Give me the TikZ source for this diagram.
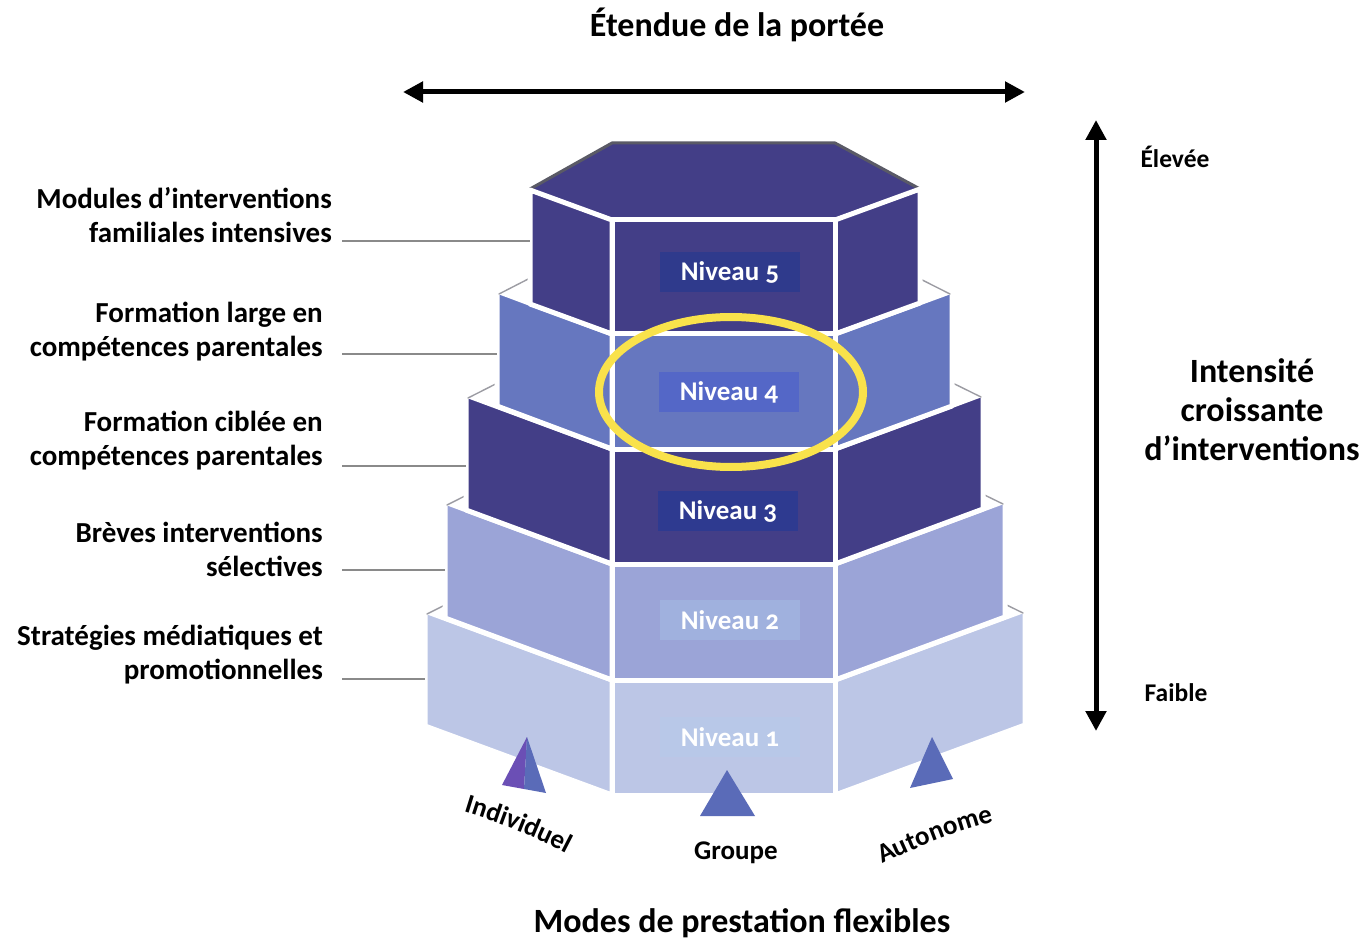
\documentclass[tikz,border=0pt]{standalone}
\usepackage{fontspec}
\setmainfont{Carlito}
\newfontfamily\nivfont{Carlito}[Numbers=OldStyle]
\usetikzlibrary{arrows.meta,decorations.text}
\definecolor{tdark}{HTML}{433E87}
\definecolor{tmid}{HTML}{6677BF}
\definecolor{tlight}{HTML}{9BA4D7}
\definecolor{tpale}{HTML}{BCC6E6}
\definecolor{bfive}{HTML}{2F3A8C}
\definecolor{bfour}{HTML}{5467C7}
\definecolor{bthree}{HTML}{2E3A90}
\definecolor{btwo}{HTML}{A0B1DE}
\definecolor{bone}{HTML}{B8C8E8}
\definecolor{trib}{HTML}{5A6BB8}
\definecolor{trip}{HTML}{6B4FB5}
\definecolor{ringy}{HTML}{F9E24B}
\definecolor{leader}{HTML}{8A8A8A}
\definecolor{rimgray}{HTML}{5A5A66}
\begin{document}
\begin{tikzpicture}[x=1pt,y=-1pt,
  face/.style={draw=white,line width=5pt,line join=round},
  ledge/.style={fill=white,draw=white,line width=5pt,line join=round},
  ledgerim/.style={draw=rimgray!60,line width=1.4pt,line join=round,line cap=round},
  nivbox/.style={minimum width=140pt,minimum height=40pt,inner sep=0pt,text=white,
    font=\nivfont\fontsize{27}{30}\selectfont\bfseries},
  sidelbl/.style={anchor=east,align=right,inner sep=0pt,
    font=\fontsize{29}{34}\selectfont\bfseries},
  leaderline/.style={draw=leader,line width=1.6pt},
  bigarrow/.style={line width=5pt,
    {Triangle[length=20pt,width=20pt]}-{Triangle[length=20pt,width=20pt]}},
  heading/.style={font=\fontsize{34}{39}\selectfont\bfseries,inner sep=0pt},
  small/.style={font=\fontsize{25.5}{28}\selectfont\bfseries,inner sep=0pt},
  mode/.style={font=\fontsize{27}{30}\selectfont\bfseries,inner sep=0pt}]
\useasboundingbox[fill=white] (0,0) rectangle (1363,941);

% ---------- Tier 1 ----------
\draw[ledge] (612,680)--(425,611)--(612,518)--(835,518)--(1025,610)--(835,680)--cycle;
\draw[face,fill=tpale] (425,611)--(612,680)--(612,795)--(425,726)--cycle;
\draw[face,fill=tpale] (835,680)--(1025,610)--(1025,725)--(835,795)--cycle;
\draw[face,fill=tpale] (612,680) rectangle (835,795);
\draw[ledgerim] (427,614)--(612,521)--(835,521)--(1023,613);
% ---------- Tier 2 ----------
\draw[ledge] (612,564)--(445,502)--(612,419)--(835,419)--(1005,501)--(835,564)--cycle;
\draw[face,fill=tlight] (445,502)--(612,564)--(612,680)--(445,618)--cycle;
\draw[face,fill=tlight] (835,564)--(1005,501)--(1005,617)--(835,680)--cycle;
\draw[face,fill=tlight] (612,564) rectangle (835,680);
\draw[ledgerim] (447,505)--(612,422)--(835,422)--(1003,504);
% ---------- Tier 3 ----------
\draw[ledge] (612,449)--(466,395)--(612,322)--(835,322)--(983,394)--(835,449)--cycle;
\draw[face,fill=tdark] (466,395)--(612,449)--(612,564)--(466,510)--cycle;
\draw[face,fill=tdark] (835,449)--(983,394)--(983,509)--(835,564)--cycle;
\draw[face,fill=tdark] (612,449) rectangle (835,564);
\draw[ledgerim] (468,398)--(612,325)--(835,325)--(981,397);
% ---------- Tier 4 ----------
\draw[ledge] (612,334)--(497,291)--(612,233)--(835,233)--(952,291)--(835,334)--cycle;
\draw[face,fill=tmid] (497,291)--(612,334)--(612,449)--(497,406)--cycle;
\draw[face,fill=tmid] (835,334)--(952,291)--(952,406)--(835,449)--cycle;
\draw[face,fill=tmid] (612,334) rectangle (835,449);
\draw[ledgerim] (499,294)--(612,236)--(835,236)--(950,294);
% ---------- Tier 5 ----------
\fill[tdark] (612,220)--(530,189)--(612,143)--(835,143)--(920,189)--(835,220)--cycle;
\draw[rimgray,line width=3pt,line join=round] (530,189)--(612,143)--(835,143)--(920,189);
\draw[face,fill=tdark] (530,190)--(612,220)--(612,334)--(530,304)--cycle;
\draw[face,fill=tdark] (835,220)--(920,189)--(920,303)--(835,334)--cycle;
\draw[face,fill=tdark] (612,220) rectangle (835,334);

% ---------- level labels ----------
\node[nivbox,fill=bfive]  (n5) at (730,272) {Niveau 5};
\node[nivbox,fill=bfour]  (n4) at (729,392) {Niveau 4};
\node[nivbox,fill=bthree] (n3) at (728,511) {Niveau 3};
\node[nivbox,fill=btwo]   (n2) at (730,620) {Niveau 2};
\node[nivbox,fill=bone]   (n1) at (730,737) {Niveau 1};

% highlight ring
\draw[ringy,line width=8pt] (731,392) ellipse [x radius=132, y radius=75];

% ---------- left descriptions ----------
\node[sidelbl] (d5) at (332,215) {Modules d’interventions\\familiales intensives};
\node[sidelbl] (d4) at (323,332) {Formation large en\\compétences parentales};
\node[sidelbl] (d3) at (323,441) {Formation ciblée en\\compétences parentales};
\node[sidelbl] (d2) at (323,549) {Brèves interventions\\sélectives};
\node[sidelbl] (d1) at (323,655) {Stratégies médiatiques et\\promotionnelles};

\coordinate (c5a) at (342,241); \coordinate (c5b) at (530,241);
\coordinate (c4a) at (342,354); \coordinate (c4b) at (497,354);
\coordinate (c3a) at (342,466); \coordinate (c3b) at (466,466);
\coordinate (c2a) at (342,570); \coordinate (c2b) at (445,570);
\coordinate (c1a) at (342,679); \coordinate (c1b) at (425,679);
\draw[leaderline] (c5a)--(c5b);
\draw[leaderline] (c4a)--(c4b);
\draw[leaderline] (c3a)--(c3b);
\draw[leaderline] (c2a)--(c2b);
\draw[leaderline] (c1a)--(c1b);

% ---------- arrows and headings ----------
\node[heading] (top) at (737,25) {Étendue de la portée};
\coordinate (hL) at (403,92); \coordinate (hR) at (1025,92);
\draw[bigarrow] (hL)--(hR);

\coordinate (vT) at (1096,120); \coordinate (vB) at (1096,731);
\draw[bigarrow] (vT)--(vB);
\node[small] (hi) at (1175,157) {Élevée};
\node[small] (lo) at (1176,693) {Faible};
\node[heading,align=center] (inten) at (1252,410) {Intensité\\croissante\\d’interventions};

\node[heading] (bottom) at (742,923) {Modes de prestation flexibles};

% ---------- delivery modes ----------
\fill[trip] (527,737)--(502,785)--(524,789)--cycle;
\fill[trib] (527,737)--(524,789)--(546,793)--cycle;
\fill[trib] (727,770)--(700,816)--(755,816)--cycle;
\fill[trib] (932,737)--(910,788)--(953,779)--cycle;
\path[decorate,decoration={text along path,text align=center,
   text={|\fontsize{27}{30}\selectfont\bfseries|Individuel}}]
   (458,810) .. controls (495,821) and (535,836) .. (572,856);
\node[mode] (grp) at (736,853) {Groupe};
\path[decorate,decoration={text along path,text align=center,
   text={|\fontsize{27}{30}\selectfont\bfseries|Autonome}}]
   (878,866) .. controls (915,848) and (955,831) .. (998,821);
\end{tikzpicture}
\end{document}
